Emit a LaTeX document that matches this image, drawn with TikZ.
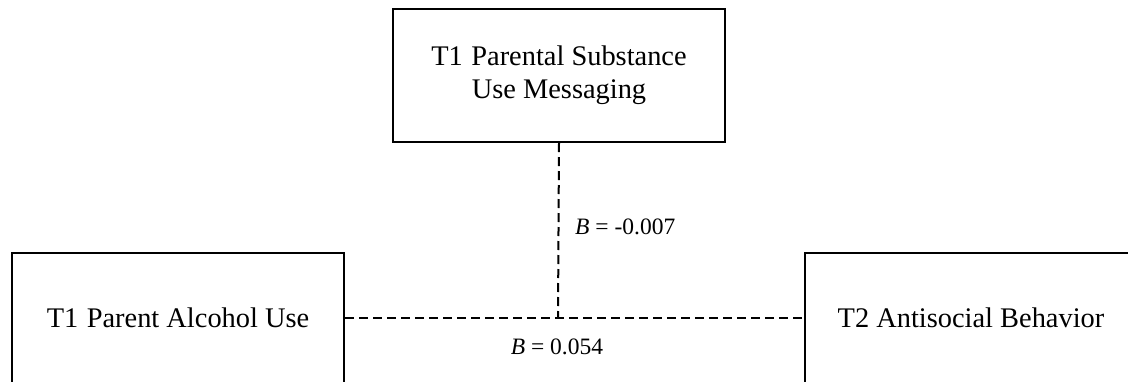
\documentclass[tikz,border=0pt]{standalone}
\usepackage{fontspec}
\setmainfont{Liberation Serif}
\usetikzlibrary{positioning}

\begin{document}
\begin{tikzpicture}[
    x=1pt, y=-1pt,
    box/.style={draw=black, line width=2pt, fill=white, minimum width=332pt, minimum height=130pt, align=center, inner sep=0pt, font=\fontsize{28.4}{33}\selectfont},
    path/.style={draw=black, line width=2pt, dash pattern=on 9pt off 5pt},
    coef/.style={font=\fontsize{23.5}{28}\selectfont, inner sep=0pt}
]
    \useasboundingbox (0,0) rectangle (1128,381);
    \clip (0,0) rectangle (1128,381);

    % Paths
    \coordinate (meet) at (558,318);

    % Boxes
    \node[box, minimum height=133pt] (msg) at (559,75.5) {T1\hspace{0.3em}Parental Substance\\Use Messaging};
    \node[box] (pau) at (178,318) {T1\hspace{0.3em}Parent Alcohol Use};
    \node[box, right=459pt of pau] (asb) {T2 Antisocial Behavior};

    % Connections
    \draw[path] (pau.east) -- (asb.west);
    \draw[path] (msg.south) -- (meet);

    % Coefficients
    \node[coef, anchor=west] (b1) at (575,227) {\textit{B} = -0.007};
    \node[coef] (b2) at (557,347) {\textit{B} = 0.054};
\end{tikzpicture}
\end{document}
